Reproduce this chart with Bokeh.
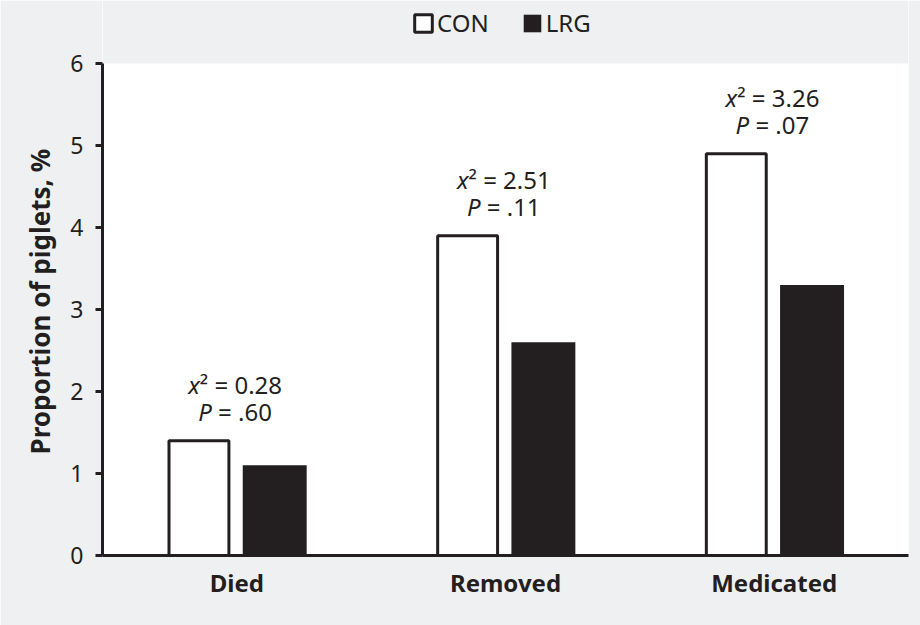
from bokeh.plotting import figure
from bokeh.models import (FactorRange, Range1d, Legend, LegendItem, ColumnDataSource,
                          FixedTicker, BoxAnnotation)
from bokeh.transform import dodge
from bokeh.core.properties import value
from bokeh.embed import file_html
from bokeh.resources import INLINE

# ---- data ----
categories = ["Died", "Removed", "Medicated"]
con_values = [1.4, 3.9, 4.9]
lrg_values = [1.1, 2.6, 3.3]
chi2_values = ["0.28", "2.51", "3.26"]
p_values = [".60", ".11", ".07"]
y_ticks = [0, 1, 2, 3, 4, 5, 6]
y_max = 6
y_title = "Proportion of piglets, %"
series_names = ["CON", "LRG"]

INK = "#231f20"
BG = "#eff0f2"
FONT = "Noto Sans"

# layout (pixels)
FRAME_W = 806
AXIS_H = 492          # pixel height of the 0..6 axis
TOP_GAP = 63          # gray band above the axis top (legend lives here)

source = ColumnDataSource(dict(
    cat=categories,
    con=con_values,
    lrg=lrg_values,
    chi_txt=["\u00b2 = " + c for c in chi2_values],
    p_txt=["\u00a0= " + v for v in p_values],
))

frame_h = AXIS_H + TOP_GAP
p = figure(
    x_range=FactorRange(factors=categories, range_padding=0),
    y_range=Range1d(0, y_max * frame_h / AXIS_H),
    frame_width=FRAME_W, frame_height=frame_h,
    output_backend="svg", toolbar_location=None,
    min_border_left=102, min_border_right=12, min_border_top=0, min_border_bottom=70,
    background_fill_color="white", border_fill_color=BG,
    outline_line_color=None,
)

# gray band above the plotting area
p.add_layout(BoxAnnotation(bottom=y_max, fill_color=BG, fill_alpha=1.0,
                           line_color=None, level="underlay"))

r_con = p.vbar(x=dodge("cat", -0.141, range=p.x_range), top="con", bottom=0, width=0.223,
               source=source, fill_color="white", line_color=INK, line_width=3)
r_lrg = p.vbar(x=dodge("cat", 0.141, range=p.x_range), top="lrg", bottom=0, width=0.238,
               source=source, fill_color=INK, line_color=None)

# annotations
common = dict(source=source, text_color=INK, text_font=value(FONT), text_font_size="24px",
              text_baseline="alphabetic")
p.text(x="cat", y="con", text=value("x"), x_offset=-37, y_offset=-56,
       text_align="right", text_font_style="italic", **common)
p.text(x="cat", y="con", text="chi_txt", x_offset=-37, y_offset=-56,
       text_align="left", **common)
p.text(x="cat", y="con", text=value("P"), x_offset=-25, y_offset=-29,
       text_align="right", text_font_style="italic", **common)
p.text(x="cat", y="con", text="p_txt", x_offset=-25, y_offset=-29,
       text_align="left", **common)

# axes
p.xgrid.grid_line_color = None
p.ygrid.grid_line_color = None

xa = p.xaxis[0]
xa.axis_line_width = 3
xa.axis_line_color = INK
xa.major_tick_line_color = None
xa.minor_tick_line_color = None
xa.major_label_text_font = FONT
xa.major_label_text_font_style = "bold"
xa.major_label_text_font_size = "24px"
xa.major_label_text_color = INK
xa.major_label_standoff = 4

ya = p.yaxis[0]
ya.ticker = FixedTicker(ticks=y_ticks)
ya.bounds = (0, y_max)
ya.axis_line_width = 3
ya.axis_line_color = INK
ya.major_tick_line_width = 3
ya.major_tick_line_color = INK
ya.major_tick_out = 7
ya.major_tick_in = 0
ya.minor_tick_line_color = None
ya.major_label_text_font = FONT
ya.major_label_text_font_size = "23px"
ya.major_label_text_color = INK
ya.major_label_standoff = 12
# trailing no-break spaces keep the title centred on the 0-6 span, not the whole frame
ya.axis_label = y_title + "\u00a0" * 7
ya.axis_label_text_font = FONT
ya.axis_label_text_font_style = "bold"
ya.axis_label_text_font_size = "26px"
ya.axis_label_text_color = INK
ya.axis_label_standoff = 9

legend = Legend(
    items=[LegendItem(label=series_names[0], renderers=[r_con]),
           LegendItem(label=series_names[1], renderers=[r_lrg])],
    orientation="horizontal", location=(310, frame_h - 39),
    glyph_width=22, glyph_height=22, label_standoff=3, spacing=32,
    padding=0, margin=0,
    label_text_font=FONT, label_text_font_size="24px", label_text_color=INK,
    border_line_color=None, background_fill_alpha=0,
)
p.add_layout(legend)

html = file_html(p, INLINE)
html = html.replace("<body>", '<body style="background:%s">' % BG, 1)
open("out.html", "w").write(html)
